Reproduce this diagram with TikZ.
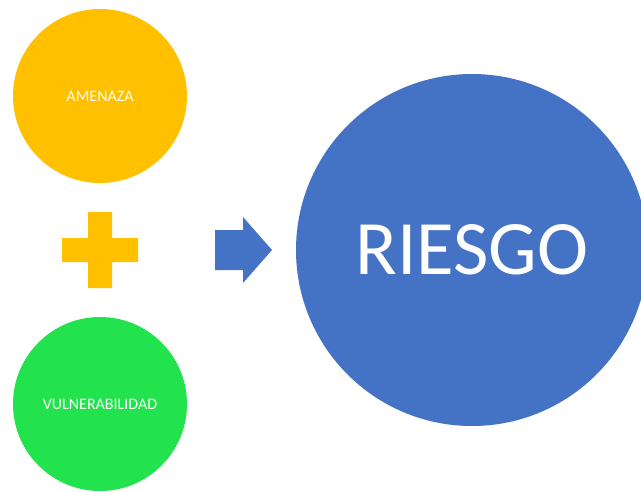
\documentclass[tikz,border=0pt]{standalone}
\usepackage{fontspec}
\setmainfont{Carlito}
\usepackage{xcolor}
\usetikzlibrary{positioning, calc}

\definecolor{amenazaorange}{HTML}{FFC000}
\definecolor{vulngreen}{HTML}{22E34D}
\definecolor{riesgoblue}{HTML}{4472C4}

\tikzset{
    factor/.style={circle, minimum size=174pt, inner sep=0pt, text=white, font=\fontsize{16}{19}\selectfont},
}

\begin{document}
\begin{tikzpicture}[x=1pt, y=-1pt]
\clip (0,0) rectangle (641,491);
\fill[white] (0,0) rectangle (641,491);
% Circles
\node[factor, fill=amenazaorange] (amenaza) at (100,96) {AMENAZA};
\node[factor, fill=vulngreen] (vuln) at (100,404) {VULNERABILIDAD};
\node[circle, fill=riesgoblue, minimum size=352pt, inner sep=0pt, text=white,
      font=\fontsize{77}{80}\selectfont] (riesgo) at (472,250) {RIESGO};
% Plus sign
\coordinate (plus) at (100,250);
\fill[amenazaorange] ($(plus)+(-12,-38)$) -- ++(24,0) -- ++(0,26) -- ++(26,0) -- ++(0,24)
    -- ++(-26,0) -- ++(0,26) -- ++(-24,0) -- ++(0,-26) -- ++(-26,0) -- ++(0,-24)
    -- ++(26,0) -- cycle;
% Arrow
\coordinate (arrow) at (215,250);
\fill[riesgoblue] ($(arrow)+(0,-20)$) -- ++(28,0) -- ++(0,-13) -- ++(29,33)
    -- ++(-29,33) -- ++(0,-13) -- ++(-28,0) -- cycle;
\end{tikzpicture}
\end{document}
